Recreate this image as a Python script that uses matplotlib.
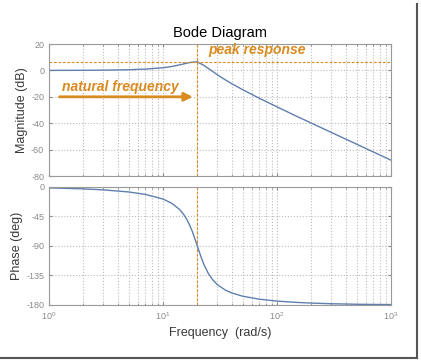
import matplotlib.pyplot as plt
from matplotlib.lines import Line2D

freq = [1, 2, 3, 5, 7, 10, 12, 14, 15, 16, 17, 18, 19, 20, 21, 22, 23, 25, 27,
        30, 35, 40, 50, 70, 100, 150, 200, 300, 500, 700, 1000]
mag_db = [0.0, 0.1, 0.2, 0.5, 1.0, 2.0, 3.0, 4.2, 4.8, 5.4, 5.9, 6.2, 6.4, 6.5,
          5.4, 4.6, 3.6, 1.5, -0.5, -3.3, -7.0, -10.0, -14.6, -21.1, -27.6,
          -34.9, -39.9, -47.0, -55.9, -61.8, -68.0]
phase_deg = [-1.4, -2.9, -4.4, -7.6, -11.3, -18.4, -25.1, -34.5, -40.6, -48.0,
             -56.9, -67.1, -78.4, -90.0, -101.0, -110.9, -119.3, -132.0, -140.6,
             -149.0, -157.0, -161.6, -166.6, -171.2, -174.1, -176.1, -177.1,
             -178.1, -178.9, -179.2, -179.4]
w_n = 20
peak_db = 6.5

line_col = '#5f7fae'
orange = '#d98b1f'
gray = '#8a8a8a'

plt.rcParams['font.family'] = ['Liberation Sans', 'DejaVu Sans']
plt.rcParams['axes.unicode_minus'] = False

fig = plt.figure(figsize=(4.21, 3.62), dpi=100)
ax1 = fig.add_axes([0.1164, 0.5138, 0.8123, 0.3646])
ax2 = fig.add_axes([0.1164, 0.1575, 0.8123, 0.326])

for ax in (ax1, ax2):
    ax.set_xscale('log')
    ax.set_xlim(1, 1000)
    ax.grid(True, which='major', axis='both', color='#bcbcbc', linestyle=':', linewidth=0.8)
    ax.grid(True, which='minor', axis='x', color='#bcbcbc', linestyle=':', linewidth=0.8)
    ax.tick_params(which='both', direction='in', colors=gray, labelsize=6.5,
                   top=True, right=True, length=2.5)
    ax.tick_params(which='minor', length=1.5)
    for s in ax.spines.values():
        s.set_color('#9a9a9a')
    ax.axvline(w_n, color=orange, linestyle=(0, (2.5, 1.5)), linewidth=0.8)

ax1.plot(freq, mag_db, color=line_col, linewidth=1.0)
ax1.set_ylim(-80, 20)
ax1.set_yticks([20, 0, -20, -40, -60, -80])
ax1.tick_params(which='both', labelbottom=False)
ax1.axhline(peak_db, color=orange, linestyle=(0, (2.5, 1.5)), linewidth=0.8)
ax1.set_title('Bode Diagram', fontsize=10.5, pad=5)
ax1.set_ylabel('Magnitude (dB)', fontsize=9, color='#3a3a3a', labelpad=2)

ax1.text(24.8, 10.2, 'peak response', color=orange, fontsize=10,
         fontstyle='italic', fontweight='bold', va='bottom')
ax1.text(1.3, -17.5, 'natural frequency', color=orange, fontsize=10,
         fontstyle='italic', fontweight='bold', va='bottom')
ax1.annotate('', xy=(19.3, -20), xytext=(1.17, -20),
             arrowprops=dict(arrowstyle='-|>,head_length=0.5,head_width=0.25',
                             color=orange, lw=2))

ax2.plot(freq, phase_deg, color=line_col, linewidth=1.0)
ax2.set_ylim(-180, 0)
ax2.set_yticks([0, -45, -90, -135, -180])
ax2.set_ylabel('Phase (deg)', fontsize=9, color='#3a3a3a', labelpad=2)
ax2.set_xlabel('Frequency  (rad/s)', fontsize=9, color='#3a3a3a', labelpad=4)

# picture frame shadow on the right and bottom
fig.add_artist(Line2D([0.990, 0.990], [0.012, 0.99], transform=fig.transFigure,
                      color='#555555', linewidth=1.5))
fig.add_artist(Line2D([0.0, 0.990], [0.012, 0.012], transform=fig.transFigure,
                      color='#555555', linewidth=1.5))

fig.savefig('out.png', dpi=100)
